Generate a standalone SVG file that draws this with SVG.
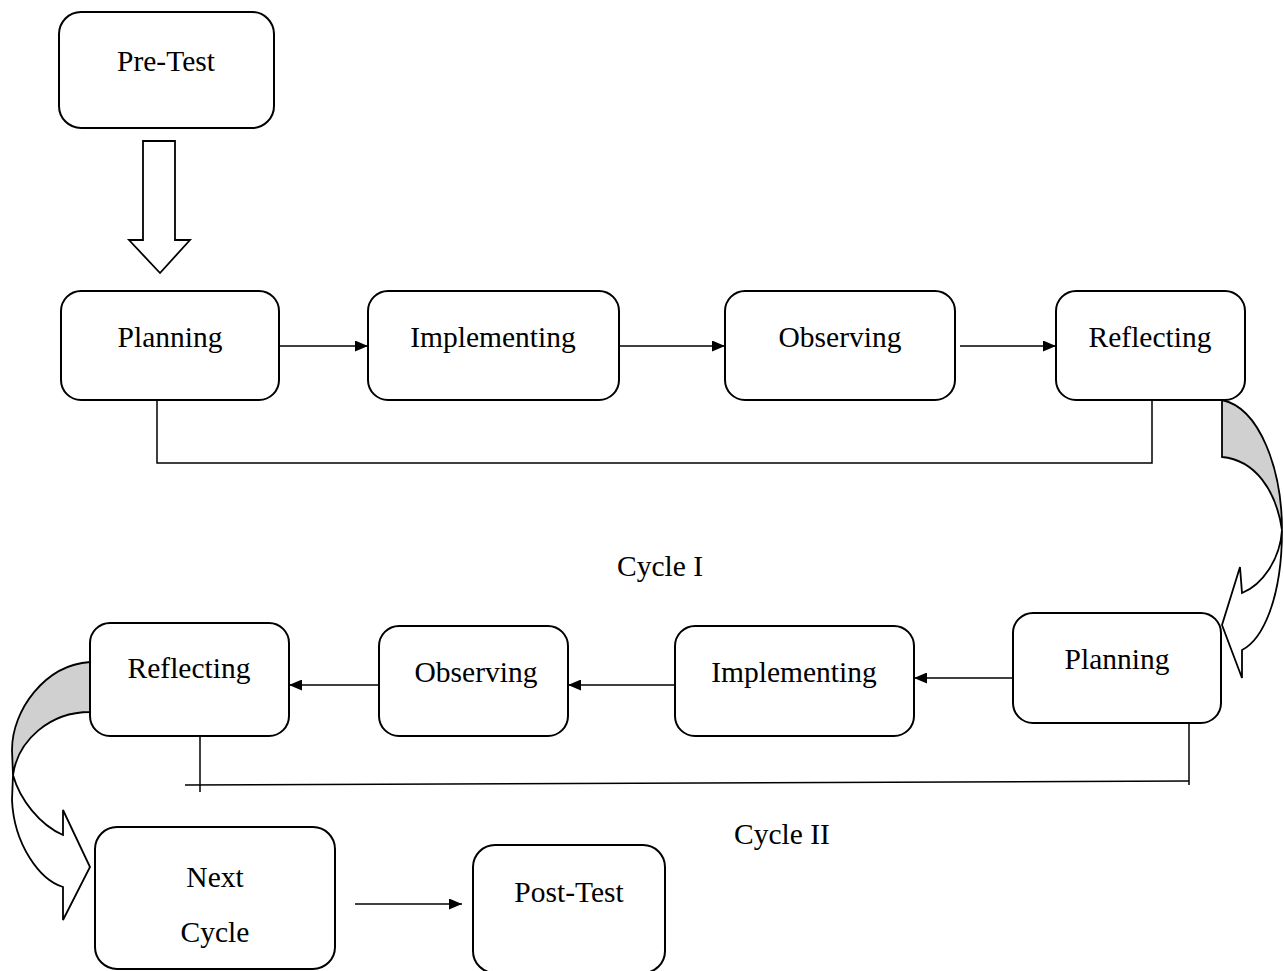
<svg xmlns="http://www.w3.org/2000/svg" width="1284" height="971" viewBox="0 0 1284 971">
<defs>
<marker id="ah" viewBox="0 0 13 11" refX="13" refY="5.5" markerWidth="13" markerHeight="11" markerUnits="userSpaceOnUse" orient="auto">
<path d="M0,0 L13,5.5 L0,11 Z" fill="#000"/>
</marker>
<style>
.box{fill:#fff;stroke:#000;stroke-width:2}
.t{font-family:"Liberation Serif","Times New Roman",serif;font-size:29.5px;fill:#000;text-anchor:middle}
.c{fill:none;stroke:#000;stroke-width:1.5}
.a{fill:none;stroke:#000;stroke-width:1.5;marker-end:url(#ah)}
.sh{stroke:#000;stroke-width:1.8;stroke-linejoin:miter}
</style>
</defs>
<rect width="1284" height="971" fill="#fff"/>
<g id="connectors">
<path class="sh" fill="#fff" d="M143,141 L175,141 L175,240 L190,240 L160,273 L129,240 L143,240 Z"/>
<line class="a" x1="280" y1="346" x2="368" y2="346"/>
<line class="a" x1="619" y1="346" x2="725" y2="346"/>
<line class="a" x1="960" y1="346" x2="1056" y2="346"/>
<polyline class="c" points="157,400 157,463 1152,463 1152,400"/>
<line class="a" x1="1013" y1="678" x2="914" y2="678"/>
<line class="a" x1="675" y1="685" x2="568" y2="685"/>
<line class="a" x1="379" y1="685" x2="289" y2="685"/>
<polyline class="c" points="1189,723 1189,785"/>
<line class="c" x1="185" y1="785" x2="1189" y2="781"/>
<line class="c" x1="200" y1="722" x2="200" y2="792"/>
<line class="a" x1="355" y1="904" x2="462" y2="904"/>
<path class="sh" fill="#d0d0d0" d="M1222,400 C1260,408 1282,470 1282,530 C1276,490 1255,460 1222,457 Z"/>
<path class="sh" fill="#fff" d="M1282,530 C1282,600 1262,640 1242,650 L1242,678 L1222,625 L1240,567 L1242,593 C1262,585 1280,560 1282,530 Z"/>
<path class="sh" fill="#d0d0d0" d="M90,662 C45,665 12,710 12,750 L13,775 C18,740 50,712 90,712 Z"/>
<path class="sh" fill="#fff" d="M13,775 L12,800 C14,845 40,880 63,887 L63,920 L90,867 L63,810 L63,835 C40,825 20,800 13,775 Z"/>
</g>
<g id="pretest"><rect class="box" x="59" y="12" width="215" height="116" rx="22"/><text class="t" x="166" y="71">Pre-Test</text></g>
<g id="planning1"><rect class="box" x="61" y="291" width="218" height="109" rx="20"/><text class="t" x="170" y="347">Planning</text></g>
<g id="implementing1"><rect class="box" x="368" y="291" width="251" height="109" rx="20"/><text class="t" x="493" y="347">Implementing</text></g>
<g id="observing1"><rect class="box" x="725" y="291" width="230" height="109" rx="20"/><text class="t" x="840" y="347">Observing</text></g>
<g id="reflecting1"><rect class="box" x="1056" y="291" width="189" height="109" rx="20"/><text class="t" x="1150" y="347">Reflecting</text></g>
<g id="cycle1"><text class="t" x="660" y="576">Cycle I</text></g>
<g id="planning2"><rect class="box" x="1013" y="613" width="208" height="110" rx="20"/><text class="t" x="1117" y="669">Planning</text></g>
<g id="implementing2"><rect class="box" x="675" y="626" width="239" height="110" rx="20"/><text class="t" x="794" y="682">Implementing</text></g>
<g id="observing2"><rect class="box" x="379" y="626" width="189" height="110" rx="20"/><text class="t" x="476" y="682">Observing</text></g>
<g id="reflecting2"><rect class="box" x="90" y="623" width="199" height="113" rx="20"/><text class="t" x="189" y="678">Reflecting</text></g>
<g id="cycle2"><text class="t" x="782" y="844">Cycle II</text></g>
<g id="nextcycle"><rect class="box" x="95" y="827" width="240" height="142" rx="22"/><text class="t" x="215" y="887">Next</text><text class="t" x="215" y="942">Cycle</text></g>
<g id="posttest"><rect class="box" x="473" y="845" width="192" height="128" rx="22"/><text class="t" x="569" y="902">Post-Test</text></g>
</svg>
